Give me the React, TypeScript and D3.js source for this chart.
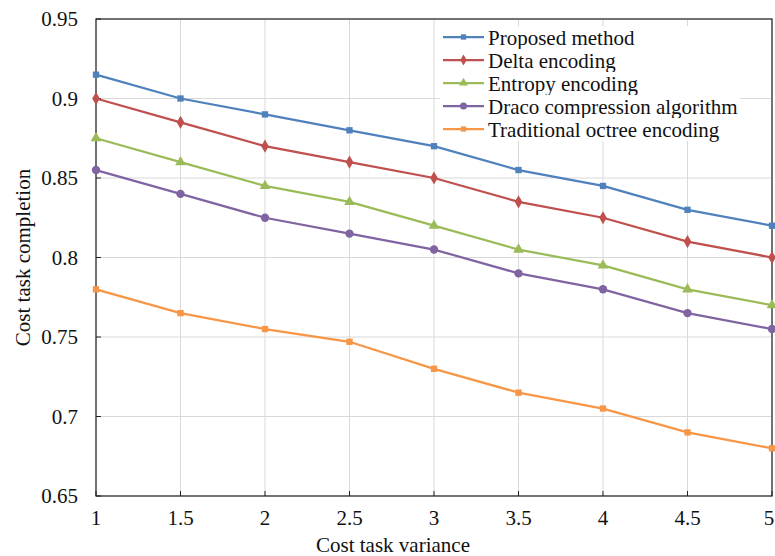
import React, { useEffect, useRef } from 'react';
import * as d3 from 'd3';

// x values (cost task variance)
const xValues = [1, 1.5, 2, 2.5, 3, 3.5, 4, 4.5, 5];
const xTicks = [1, 1.5, 2, 2.5, 3, 3.5, 4, 4.5, 5];
const yTicks = [0.65, 0.7, 0.75, 0.8, 0.85, 0.9, 0.95];

const proposed = [0.915, 0.9, 0.89, 0.88, 0.87, 0.855, 0.845, 0.83, 0.82];
const delta = [0.9, 0.885, 0.87, 0.86, 0.85, 0.835, 0.825, 0.81, 0.8];
const entropy = [0.875, 0.86, 0.845, 0.835, 0.82, 0.805, 0.795, 0.78, 0.77];
const draco = [0.855, 0.84, 0.825, 0.815, 0.805, 0.79, 0.78, 0.765, 0.755];
const octree = [0.78, 0.765, 0.755, 0.747, 0.73, 0.715, 0.705, 0.69, 0.68];

const seriesNames = [
  'Proposed method',
  'Delta encoding',
  'Entropy encoding',
  'Draco compression algorithm',
  'Traditional octree encoding',
];

const W = 775;
const H = 556;
const FONT = '"Liberation Serif", "Times New Roman", serif';

const App = () => {
  const svgRef = useRef<SVGSVGElement | null>(null);

  useEffect(() => {
    if (!svgRef.current) return;
    const svg = d3.select(svgRef.current);
    svg.selectAll('*').remove();

    const margin = { left: 96, right: 3, top: 19, bottom: 60 };
    const x = d3.scaleLinear().domain([1, 5]).range([margin.left, W - margin.right]);
    const y = d3.scaleLinear().domain([0.65, 0.95]).range([H - margin.bottom, margin.top]);

    const series = [
      { name: seriesNames[0], values: proposed, color: '#4F81BD', symbol: d3.symbolSquare, size: 40 },
      { name: seriesNames[1], values: delta, color: '#C0504D', symbol: d3.symbolDiamond, size: 50 },
      { name: seriesNames[2], values: entropy, color: '#9BBB59', symbol: d3.symbolTriangle, size: 50 },
      { name: seriesNames[3], values: draco, color: '#8064A2', symbol: d3.symbolCircle, size: 55 },
      { name: seriesNames[4], values: octree, color: '#F79646', symbol: d3.symbolSquare, size: 40 },
    ];

    // 网格线
    const grid = svg.append('g');
    yTicks.forEach(t => {
      grid.append('line')
        .attr('x1', x(1)).attr('x2', x(5))
        .attr('y1', y(t)).attr('y2', y(t))
        .attr('stroke', '#d9d9d9').attr('stroke-width', 1);
    });
    xTicks.forEach(t => {
      grid.append('line')
        .attr('x1', x(t)).attr('x2', x(t))
        .attr('y1', y(0.65)).attr('y2', y(0.95))
        .attr('stroke', '#d9d9d9').attr('stroke-width', 1);
    });

    // 边框
    svg.append('rect')
      .attr('x', x(1)).attr('y', y(0.95))
      .attr('width', x(5) - x(1)).attr('height', y(0.65) - y(0.95))
      .attr('fill', 'none').attr('stroke', '#222').attr('stroke-width', 1.2);

    // 刻度线（朝内）
    yTicks.forEach(t => {
      svg.append('line')
        .attr('x1', x(1)).attr('x2', x(1) + 5)
        .attr('y1', y(t)).attr('y2', y(t))
        .attr('stroke', '#222');
    });
    xTicks.forEach(t => {
      svg.append('line')
        .attr('x1', x(t)).attr('x2', x(t))
        .attr('y1', y(0.65)).attr('y2', y(0.65) - 5)
        .attr('stroke', '#222');
    });

    // 刻度标签
    yTicks.forEach(t => {
      svg.append('text')
        .attr('x', x(1) - 18).attr('y', y(t))
        .attr('text-anchor', 'end').attr('dominant-baseline', 'central')
        .attr('font-family', FONT).attr('font-size', 21).attr('fill', '#111')
        .text(String(t));
    });
    xTicks.forEach(t => {
      svg.append('text')
        .attr('x', t === 5 ? x(t) - 3 : x(t)).attr('y', y(0.65) + 22)
        .attr('text-anchor', 'middle').attr('dominant-baseline', 'central')
        .attr('font-family', FONT).attr('font-size', 21).attr('fill', '#111')
        .text(String(t));
    });

    // 轴标题
    svg.append('text')
      .attr('x', 393).attr('y', H - 11)
      .attr('text-anchor', 'middle').attr('dominant-baseline', 'central')
      .attr('font-family', FONT).attr('font-size', 21).attr('fill', '#111')
      .text('Cost task variance');
    svg.append('text')
      .attr('transform', `translate(23, ${(y(0.65) + y(0.95)) / 2}) rotate(-90)`)
      .attr('text-anchor', 'middle').attr('dominant-baseline', 'central')
      .attr('font-family', FONT).attr('font-size', 21).attr('fill', '#111')
      .text('Cost task completion');

    // 折线和标记
    const line = d3.line<number>()
      .x((_, i) => x(xValues[i]))
      .y(d => y(d));

    series.forEach(s => {
      svg.append('path')
        .attr('d', line(s.values))
        .attr('fill', 'none')
        .attr('stroke', s.color)
        .attr('stroke-width', 2.25);
      const sym = d3.symbol().type(s.symbol).size(s.size);
      s.values.forEach((v, i) => {
        svg.append('path')
          .attr('d', sym())
          .attr('transform', `translate(${x(xValues[i])},${y(v)})`)
          .attr('fill', s.color);
      });
    });

    // 图例
    const lg = svg.append('g').attr('transform', 'translate(443, 37)');
    series.forEach((s, i) => {
      const row = lg.append('g').attr('transform', `translate(0, ${i * 23})`);
      row.append('rect').attr('x', -3).attr('y', -11).attr('width', 300).attr('height', 23).attr('fill', '#fff');
      row.append('line').attr('x1', 0).attr('x2', 41).attr('y1', 0).attr('y2', 0)
        .attr('stroke', s.color).attr('stroke-width', 2.25);
      row.append('path')
        .attr('d', d3.symbol().type(s.symbol).size(s.size * 0.7)())
        .attr('transform', 'translate(20.5,0)')
        .attr('fill', s.color);
      row.append('text')
        .attr('x', 45).attr('y', 1)
        .attr('dominant-baseline', 'central')
        .attr('font-family', FONT).attr('font-size', 21).attr('fill', '#111')
        .text(s.name);
    });
  }, []);

  return (
    <div style={{ position: 'absolute', left: 0, top: 0, width: W, height: H, background: '#fff' }}>
      <svg ref={svgRef} width={W} height={H}></svg>
    </div>
  );
};

export default App;
